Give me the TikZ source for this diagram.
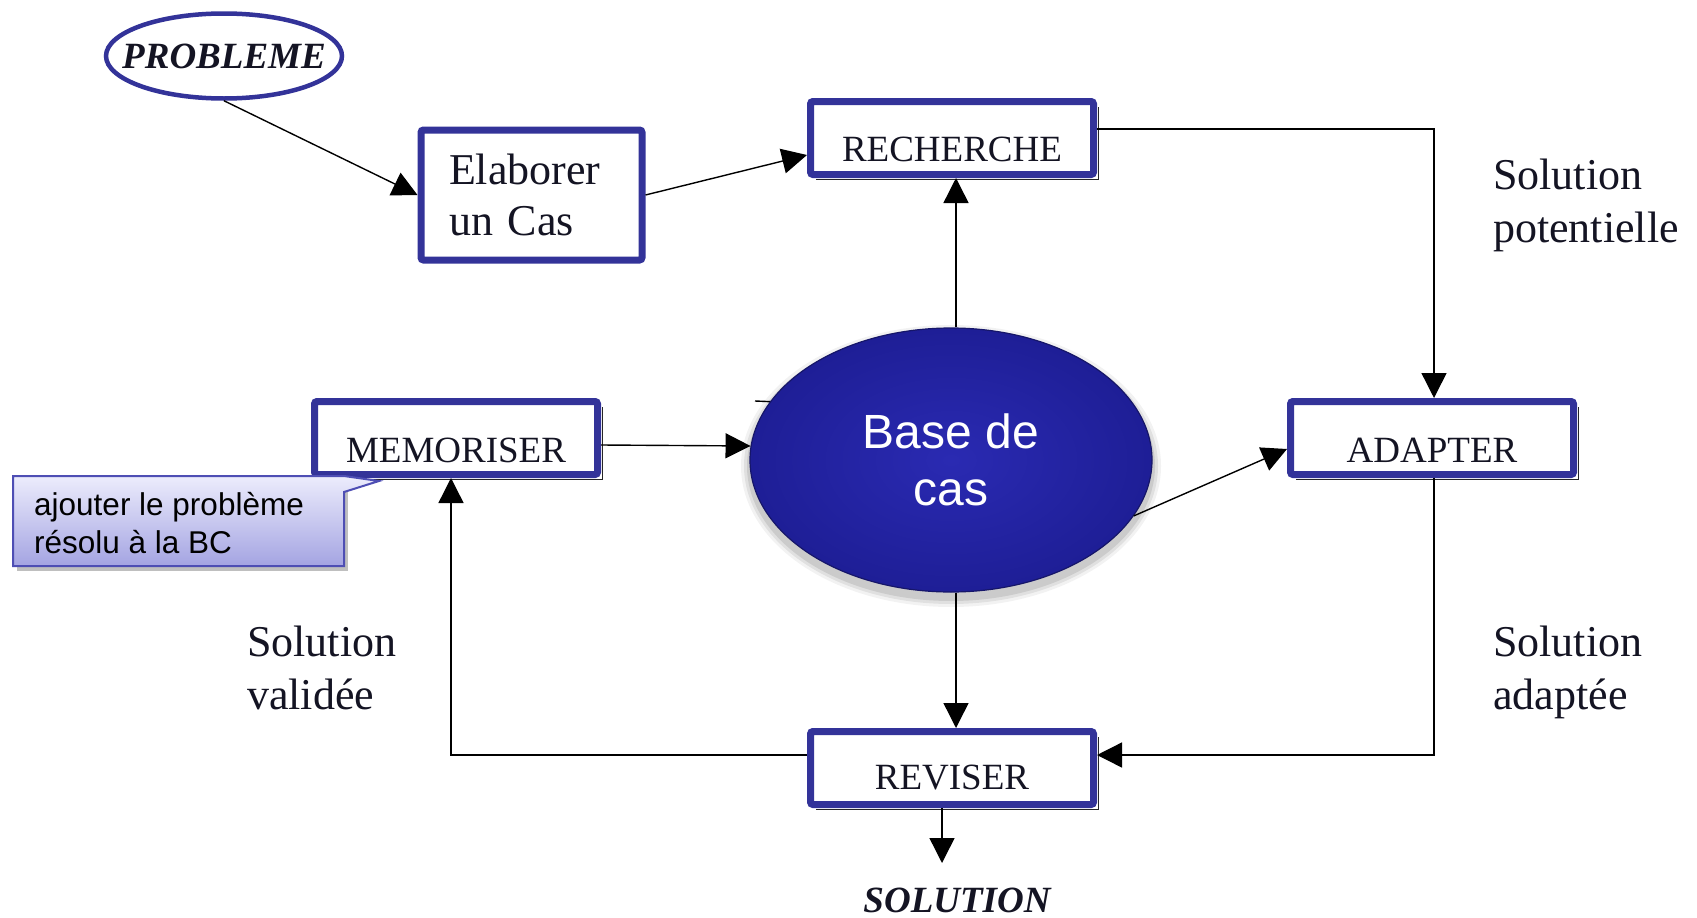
\documentclass[tikz,border=0pt]{standalone}
\usepackage{fontspec}
\setmainfont{Liberation Serif}
\newfontfamily\sansf{Liberation Sans}
\usetikzlibrary{arrows.meta,calc,shapes.geometric}

\definecolor{boxblue}{RGB}{51,51,153}
\definecolor{inkc}{RGB}{20,20,35}
\definecolor{baselt}{RGB}{42,42,178}
\definecolor{basedk}{RGB}{30,30,150}
\definecolor{baseedge}{RGB}{22,22,105}
\definecolor{calltop}{RGB}{236,236,252}
\definecolor{callbot}{RGB}{164,164,226}
\definecolor{calledge}{RGB}{78,78,180}

% thin dark offset line along the right and bottom sides of a box
\newcommand\boxshade[1]{%
  \draw[line width=1pt,black!85] ($(#1.north east)+(1.5,9)$) -- ($(#1.south east)+(1.5,1.5)$) -- ($(#1.south west)+(9,1.5)$);}
% text set on a baseline lying #1 below the node centre
\newcommand\lowtext[2]{\makebox[0pt]{\raisebox{-#1}[0pt][0pt]{#2}}}

\begin{document}
\begin{tikzpicture}[x=1pt,y=-1pt,
  conn/.style={line width=1.4pt, draw=black},
  arr/.style={conn, -{Triangle[length=25pt,width=25pt]}},
  stepbox/.style={draw=boxblue, line width=7pt, fill=white, rounded corners=2.5pt,
    minimum width=283pt, minimum height=73pt, inner sep=0pt,
    font=\fontsize{37}{44}\selectfont, text=inkc},
  lbl/.style={font=\fontsize{44}{53}\selectfont, align=left, inner sep=0pt, anchor=west, text=inkc},
]
\useasboundingbox (0,0) rectangle (1697,918);
\fill[white] (0,0) rectangle (1697,918);

% process boxes
\node[stepbox, minimum width=220pt, minimum height=130pt, text width=165pt, inner xsep=28pt,
  align=left, font=\fontsize{44}{51}\selectfont] (elab) at (531.5,195) {Elaborer\\un Cas};
\node[stepbox] (rech)  at (952,138)  {\lowtext{23pt}{RECHERCHE}};
\node[stepbox] (memo)  at (456,438)  {\lowtext{24pt}{MEMORISER}};
\node[stepbox] (adapt) at (1432,438) {\lowtext{24pt}{ADAPTER}};
\node[stepbox] (revis) at (952,768)  {\lowtext{21pt}{REVISER}};
\boxshade{rech}
\boxshade{memo}
\boxshade{adapt}
\boxshade{revis}

% input problem
\node[ellipse, draw=boxblue, line width=4.5pt, fill=white, minimum width=236pt, minimum height=85pt,
  inner sep=0pt, text=inkc, font=\fontsize{37}{44}\selectfont\bfseries\itshape] (prob) at (224,56)
  {\lowtext{13pt}{PROBLEME}};

% case base with soft shadow
\draw[conn] (755,401) -- (778,402);
\foreach \s/\o in {9/0.05,6/0.07,3/0.09}
  \fill[black, opacity=\o] (951,466) ellipse ({201+\s} and {132+\s});
\node[ellipse, minimum width=402pt, minimum height=264pt, draw=baseedge, line width=1.2pt,
  shade, inner color=baselt, outer color=basedk, text=white, align=center, inner sep=0pt,
  font=\sansf\fontsize{48}{57}\selectfont] (base) at (951,460) {Base de\\cas};

% output
\coordinate (solpt) at (942,863);
\node[inner sep=0pt, text=inkc, font=\fontsize{37}{44}\selectfont\bfseries\itshape] (sol) at (957,900) {SOLUTION};

% connectors
\draw[arr] (prob.south) -- (elab.west);
\draw[arr] (elab.east) -- ($(rech.west)+(0,17)$);
\draw[arr] ($(rech.east)+(0,-9)$) -| ($(adapt.north)+(2,0)$);
\draw[arr] ($(base.north)+(5,0)$) -- ($(rech.south)+(4,0)$);
\draw[arr] ($(memo.east)+(0,7)$) -- (base.176);
\draw[arr] (base.-17) -- ($(adapt.west)+(0,11)$);
\draw[arr] ($(base.south)+(5,0)$) -- ($(revis.north)+(4,0)$);
\draw[arr] ($(adapt.south)+(2,0)$) |- ($(revis.east)+(0,-13)$);
\draw[arr] ($(revis.west)+(0,-13)$) -| ($(memo.south)+(-5,0)$);
\draw[arr] ($(revis.south)+(-10,0)$) -- (solpt);

% edge labels
\node[lbl] (lpot) at (1493,205) {Solution\\potentielle};
\node[lbl] (lval) at (247,668)  {Solution\\validée};
\node[lbl] (lada) at (1493,672) {Solution\\adaptée};

% callout note
\fill[black, opacity=0.25] (17,481) -- (348,481) -- (348,571) -- (17,571) -- cycle;
\shade[top color=calltop, bottom color=callbot, draw=calledge, line width=2pt, line join=miter]
  (13,476) -- (344,476) -- (379,481) -- (344,492) -- (344,566) -- (13,566) -- cycle;
\node[anchor=west, inner sep=0pt, align=left, text=black, font=\sansf\fontsize{31.5}{38}\selectfont]
  (note) at (34,523) {ajouter le problème\\résolu à la BC};
\end{tikzpicture}
\end{document}
